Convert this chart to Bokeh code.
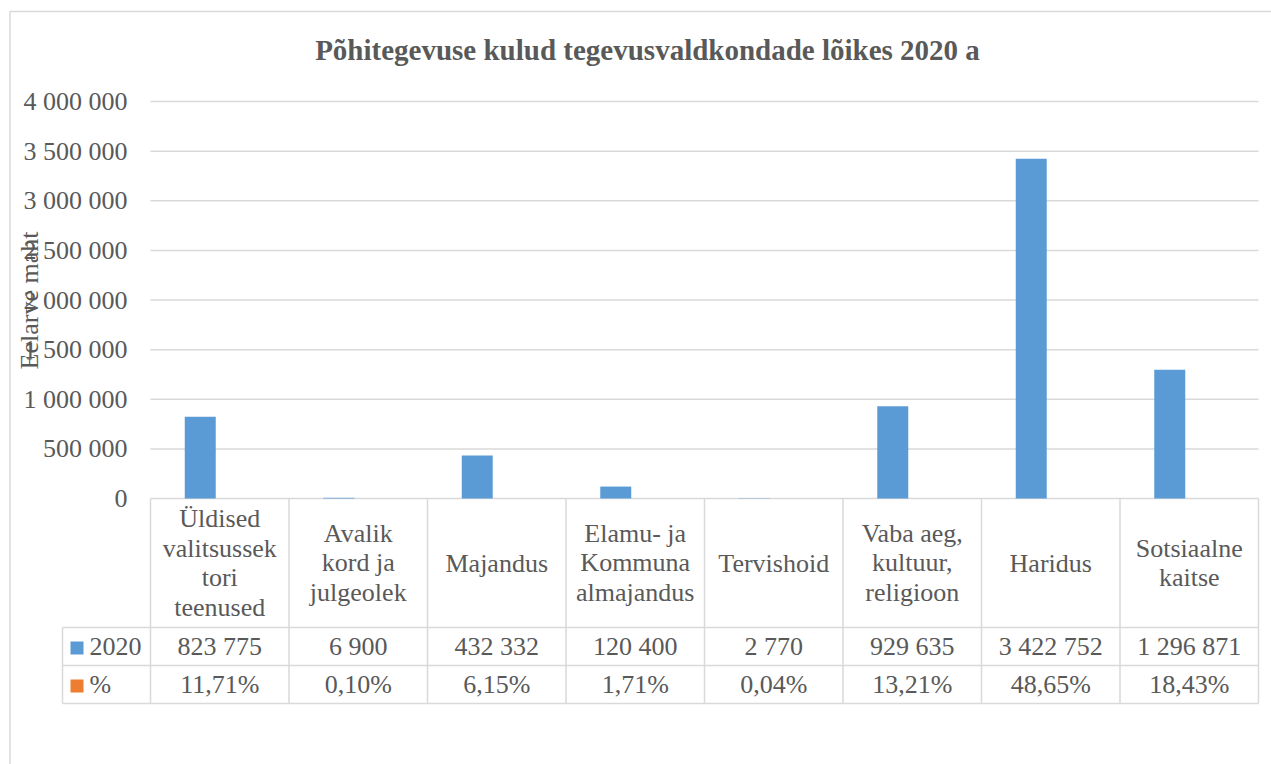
from bokeh.plotting import figure
from bokeh.models import Range1d, ColumnDataSource
from bokeh.core.properties import value
from bokeh.embed import file_html
from bokeh.resources import INLINE

# ---- data ----
categories = ["Üldised valitsussektori teenused", "Avalik kord ja julgeolek", "Majandus",
              "Elamu- ja Kommunaalmajandus", "Tervishoid", "Vaba aeg, kultuur, religioon",
              "Haridus", "Sotsiaalne kaitse"]
category_labels = ["Üldised\nvalitsussek\ntori\nteenused", "Avalik\nkord ja\njulgeolek", "Majandus",
                   "Elamu- ja\nKommuna\nalmajandus", "Tervishoid", "Vaba aeg,\nkultuur,\nreligioon",
                   "Haridus", "Sotsiaalne\nkaitse"]
values_2020 = [823775, 6900, 432332, 120400, 2770, 929635, 3422752, 1296871]
values_pct = [11.71, 0.10, 6.15, 1.71, 0.04, 13.21, 48.65, 18.43]
series_names = ["2020", "%"]
y_ticks = [0, 500000, 1000000, 1500000, 2000000, 2500000, 3000000, 3500000, 4000000]
title_text = "Põhitegevuse kulud tegevusvaldkondade lõikes 2020 a"
y_title = "Eelarve maht"

# ---- layout helpers (page pixels -> data units) ----
COLW = 138.5
def xp(px):
    return (px - 150.0) / COLW
def yp(py):
    return (498.0 - py) * 4000000.0 / 397.0

OX, OY = 0, 0
W, H = 1271, 764
FONT = value("Liberation Serif")
TXT = "#595959"
GRID = "#d9d9d9"
BLUE = "#5b9bd5"
ORANGE = "#ed7d31"

p = figure(width=W, height=H, output_backend="svg", toolbar_location=None,
           x_range=Range1d(xp(OX), xp(OX + W)), y_range=Range1d(yp(OY + H), yp(OY)),
           x_axis_location=None, y_axis_location=None, title=None, min_border=0)
p.outline_line_color = None
p.grid.visible = False
p.background_fill_color = "white"
p.border_fill_color = "white"

# outer chart border
p.quad(left=[xp(9.5)], right=[xp(1300)], top=[yp(11)], bottom=[yp(900)],
       fill_color=None, line_color=GRID, line_width=1.5)

# title
p.text(x=[xp(647)], y=[yp(49)], text=[title_text], text_font=FONT, text_font_size="29px",
       text_font_style="bold", text_color=TXT, text_align="center", text_baseline="middle")

n = len(categories)
# gridlines
p.segment(x0=[0] * len(y_ticks), x1=[n] * len(y_ticks), y0=y_ticks, y1=y_ticks,
          line_color=GRID, line_width=1.5)

# y tick labels
tick_labels = [f"{t:,}".replace(",", " ") for t in y_ticks]
p.text(x=[xp(127)] * len(y_ticks), y=y_ticks, text=tick_labels, text_font=FONT,
       text_font_size="26px", text_color=TXT, text_align="right", text_baseline="middle")

# y axis title
p.text(x=[xp(29)], y=[yp(300)], text=[y_title], text_font=FONT, text_font_size="26px",
       text_color=TXT, text_align="center", text_baseline="middle", angle=1.5707963)

# bars
centers = [i + 0.5 for i in range(n)]
bw = 31.0 / COLW
off = 15.5 / COLW + 4.0 / COLW
src = ColumnDataSource(dict(x1=[c - off for c in centers], x2=[c - off + bw for c in centers],
                            v=values_2020, pc=values_pct))
p.vbar(x="x1", top="v", width=bw, source=src, fill_color=BLUE, line_color=None)
p.vbar(x="x2", top="pc", width=bw, source=src, fill_color=ORANGE, line_color=None)

# data table
row_top, row_hdr, row_v, row_p = 498, 627, 665, 703
bounds = [i for i in range(n + 1)]
p.segment(x0=bounds, x1=bounds, y0=[yp(row_top)] * (n + 1), y1=[yp(row_p)] * (n + 1),
          line_color=GRID, line_width=1.5)
p.segment(x0=[xp(62)] * 3, x1=[n] * 3, y0=[yp(row_hdr), yp(row_v), yp(row_p)],
          y1=[yp(row_hdr), yp(row_v), yp(row_p)], line_color=GRID, line_width=1.5)
p.segment(x0=[xp(62)], x1=[xp(62)], y0=[yp(row_hdr)], y1=[yp(row_p)],
          line_color=GRID, line_width=1.5)

p.text(x=centers, y=[yp(562.5)] * n, text=category_labels, text_font=FONT,
       text_font_size="26px", text_color=TXT, text_align="center", text_baseline="middle",
       text_line_height=1.03)
val_txt = [f"{v:,}".replace(",", " ") for v in values_2020]
pct_txt = [f"{v:.2f}".replace(".", ",") + "%" for v in values_pct]
p.text(x=centers, y=[yp(646)] * n, text=val_txt, text_font=FONT, text_font_size="26px",
       text_color=TXT, text_align="center", text_baseline="middle")
p.text(x=centers, y=[yp(684)] * n, text=pct_txt, text_font=FONT, text_font_size="26px",
       text_color=TXT, text_align="center", text_baseline="middle")

# legend keys in table
p.scatter(x=[xp(76.5)] * 2, y=[yp(647.5), yp(685.5)], marker="square", size=13,
          fill_color=[BLUE, ORANGE], line_color=None)
p.text(x=[xp(89)] * 2, y=[yp(646), yp(684)], text=series_names, text_font=FONT,
       text_font_size="26px", text_color=TXT, text_align="left", text_baseline="middle")

open("out.html", "w").write(file_html(p, INLINE))
